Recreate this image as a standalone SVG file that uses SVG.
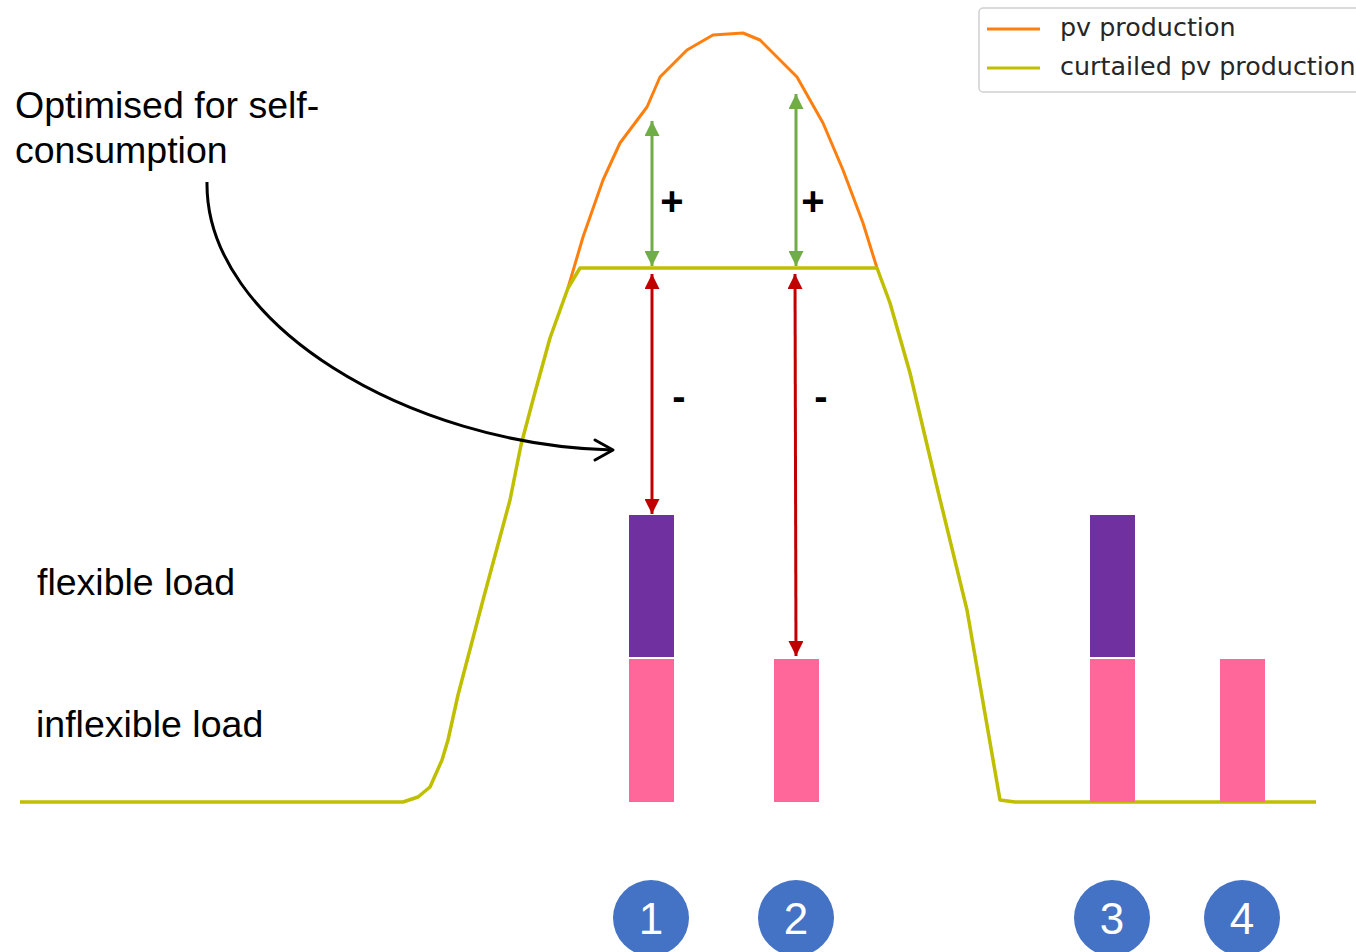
<svg xmlns="http://www.w3.org/2000/svg" width="1356" height="952" viewBox="0 0 1356 952">
<style>
.lbl{font-family:"Liberation Sans",Arial,sans-serif;font-size:37.5px;fill:#000}
.leg{font-family:"DejaVu Sans",sans-serif;font-size:25.4px;fill:#262626}
.num{font-family:"Liberation Sans",Arial,sans-serif;font-size:44px;fill:#fff;text-anchor:middle}
.sign{font-family:"Liberation Sans",Arial,sans-serif;font-size:40px;font-weight:bold;fill:#000;text-anchor:middle}
.green{stroke:#70AD47;stroke-width:3;fill:none}
.red{stroke:#C00000;stroke-width:3;fill:none}
.circ{fill:#4472C4}
</style>
<defs>
<marker id="ag" viewBox="0 0 10 10" refX="10" refY="5" markerWidth="5" markerHeight="5" markerUnits="strokeWidth" orient="auto-start-reverse"><path d="M0,0 L10,5 L0,10 z" fill="#70AD47"/></marker>
<marker id="ar" viewBox="0 0 10 10" refX="10" refY="5" markerWidth="5" markerHeight="5" markerUnits="strokeWidth" orient="auto-start-reverse"><path d="M0,0 L10,5 L0,10 z" fill="#C00000"/></marker>
</defs>
<rect width="1356" height="952" fill="#fff"/>

<g id="legend">
<rect x="979" y="8" width="390" height="84" rx="4" fill="#fff" stroke="#d0d0d0" stroke-width="1.5"/>
<line x1="987" y1="29" x2="1040" y2="29" stroke="#FF7F0E" stroke-width="3"/>
<text class="leg" x="1060" y="36">pv production</text>
<line x1="987" y1="68" x2="1040" y2="68" stroke="#BFBF00" stroke-width="3"/>
<text class="leg" x="1060" y="75">curtailed pv production</text>
</g>

<g id="pv-production">
<polyline fill="none" stroke="#FF7F0E" stroke-width="3" stroke-linejoin="round" points="568,288 583,237 603,180 620,143 647,107 660,77 687,50 713,35 743,33 760,40 797,77 823,123 843,170 863,223 877,268"/>
</g>
<g id="curtailed-pv">
<polyline fill="none" stroke="#BFBF00" stroke-width="3.5" stroke-linejoin="round" points="20,802 403,802 418,797 430,787 442,760 448,740 458,695 483,600 510,500 521,445 534,396 550,338 568,288 580,268 877,268 890,303 910,373 937,487 967,610 1000,800 1015,802 1316,802"/>
</g>

<g id="bars">
<rect x="629" y="515" width="45" height="142" fill="#7030A0"/>
<rect x="629" y="659" width="45" height="143" fill="#FF6699"/>
<rect x="774" y="659" width="45" height="143" fill="#FF6699"/>
<rect x="1090" y="515" width="45" height="142" fill="#7030A0"/>
<rect x="1090" y="659" width="45" height="143" fill="#FF6699"/>
<rect x="1220" y="659" width="45" height="143" fill="#FF6699"/>
</g>

<g id="connectors">
<line class="green" x1="652" y1="121" x2="652" y2="266" marker-start="url(#ag)" marker-end="url(#ag)"/>
<line class="green" x1="796" y1="94" x2="796" y2="266" marker-start="url(#ag)" marker-end="url(#ag)"/>
<line class="red" x1="652" y1="274" x2="652" y2="514" marker-start="url(#ar)" marker-end="url(#ar)"/>
<line class="red" x1="795" y1="274" x2="796" y2="656" marker-start="url(#ar)" marker-end="url(#ar)"/>
<path d="M207,182 C205,325 410,445 612,450" fill="none" stroke="#000" stroke-width="3"/>
<polyline points="595,440 613,450 595,460" fill="none" stroke="#000" stroke-width="3" stroke-linecap="round" stroke-linejoin="round"/>
</g>

<g id="signs">
<text class="sign" x="672" y="215">+</text>
<text class="sign" x="813" y="215">+</text>
<text class="sign" x="679" y="410">-</text>
<text class="sign" x="821" y="410">-</text>
</g>

<g id="note">
<text class="lbl" x="15" y="118">Optimised for self-</text>
<text class="lbl" x="15" y="163">consumption</text>
</g>
<g id="flexible-label"><text class="lbl" x="37" y="595">flexible load</text></g>
<g id="inflexible-label"><text class="lbl" x="36" y="737">inflexible load</text></g>

<g id="n1"><circle class="circ" cx="651" cy="918" r="38"/><text class="num" x="651" y="934">1</text></g>
<g id="n2"><circle class="circ" cx="796" cy="918" r="38"/><text class="num" x="796" y="934">2</text></g>
<g id="n3"><circle class="circ" cx="1112" cy="918" r="38"/><text class="num" x="1112" y="934">3</text></g>
<g id="n4"><circle class="circ" cx="1242" cy="918" r="38"/><text class="num" x="1242" y="934">4</text></g>
</svg>
